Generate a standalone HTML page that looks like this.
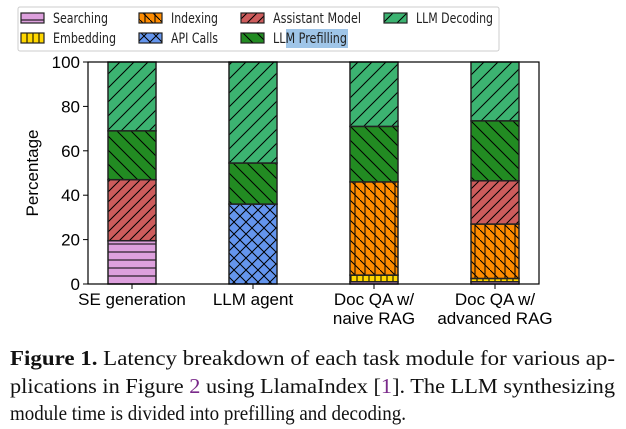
<!DOCTYPE html>
<html><head><meta charset="utf-8"><style>
body{margin:0;background:#fff;width:626px;height:429px;overflow:hidden}
svg{display:block}
</style></head><body>
<svg id="chart" width="626" height="429" viewBox="0 0 626 429" xmlns="http://www.w3.org/2000/svg">
<defs>
<pattern id="p-search" patternUnits="userSpaceOnUse" width="8" height="8"><line x1="0" y1="4" x2="8" y2="4" stroke="#000" stroke-width="1"/></pattern>
<pattern id="p-embed" patternUnits="userSpaceOnUse" width="6" height="6"><line x1="3" y1="0" x2="3" y2="6" stroke="#000" stroke-width="1"/></pattern>
<pattern id="p-index" patternUnits="userSpaceOnUse" width="10" height="10"><line x1="0" y1="0" x2="10" y2="10" stroke="#000" stroke-width="1"/><line x1="5" y1="0" x2="5" y2="10" stroke="#000" stroke-width="1"/></pattern>
<pattern id="p-api" patternUnits="userSpaceOnUse" width="12" height="12"><path d="M0 0L12 12M12 0L0 12" stroke="#000" stroke-width="1"/></pattern>
<pattern id="p-assist" patternUnits="userSpaceOnUse" width="10" height="10"><path d="M0 10L10 0M-2 2L2 -2M8 12L12 8" stroke="#000" stroke-width="1"/></pattern>
<pattern id="p-prefill" patternUnits="userSpaceOnUse" width="14" height="14"><path d="M0 0L14 14M-3 11L3 17M11 -3L17 3" stroke="#000" stroke-width="1"/></pattern>
<pattern id="p-decode" patternUnits="userSpaceOnUse" width="14" height="14"><path d="M0 14L14 0M-3 3L3 -3M11 17L17 11" stroke="#000" stroke-width="1"/></pattern>
</defs>
<g id="legend"></g>
<g id="plot"></g>
<g font-family="'Liberation Serif', serif" font-size="21" fill="#111">
<text x="10" y="365" textLength="605" lengthAdjust="spacingAndGlyphs"><tspan font-weight="bold">Figure 1.</tspan> Latency breakdown of each task module for various ap-</text>
<text x="10" y="393" textLength="605" lengthAdjust="spacingAndGlyphs">plications in Figure <tspan fill="#7a2a8a">2</tspan> using LlamaIndex [<tspan fill="#7a2a8a">1</tspan>]. The LLM synthesizing</text>
<text x="10" y="420" textLength="396" lengthAdjust="spacingAndGlyphs">module time is divided into prefilling and decoding.</text>
</g>
</svg>
<script>
const categories=["SE generation","LLM agent","Doc QA w/|naive RAG","Doc QA w/|advanced RAG"];
const seriesNames=["Searching","Embedding","Indexing","API Calls","Assistant Model","LLM Prefilling","LLM Decoding"];
const searching=[19.5,0,1,1];
const embedding=[0,0,3,1.5];
const indexing=[0,0,42,24.5];
const apiCalls=[0,36,0,0];
const assistant=[27.5,0,0,19.5];
const prefill=[22,18.5,25,27];
const decoding=[31,45.5,29,26.5];
const yTicks=[0,20,40,60,80,100];
const colors=["#dda0dd","#ffd700","#ff8c00","#6495ed","#cd5c5c","#228b22","#3cb371"];
const pats=["p-search","p-embed","p-index","p-api","p-assist","p-prefill","p-decode"];
const series=[searching,embedding,indexing,apiCalls,assistant,prefill,decoding];
const NS="http://www.w3.org/2000/svg";
const X0=88,X1=539,Y0=284,Y1=62;
const y=v=>Y0-(v/100)*(Y0-Y1);
const xc=i=>X0+44+i*121;
const BW=48;
function mk(t,a,p){const e=document.createElementNS(NS,t);for(const k in a)e.setAttribute(k,a[k]);(p||document.getElementById('plot')).appendChild(e);return e;}
categories.forEach((c,i)=>{
  let base=0;
  series.forEach((s,j)=>{
    const v=s[i]; if(!v)return;
    const g=mk('g',{});
    
    
    const a={x:xc(i)-BW/2,y:y(base+v),width:BW,height:y(base)-y(base+v)};
    mk('rect',Object.assign({fill:colors[j]},a),g);
    mk('rect',Object.assign({fill:'url(#'+pats[j]+')',stroke:'#222','stroke-width':1.5},a),g);
    base+=v;
  });
});
const ax=mk('rect',{x:X0,y:Y1,width:X1-X0,height:Y0-Y1,fill:'none',stroke:'#000','stroke-width':1.2});


yTicks.forEach(t=>{
  mk('line',{x1:X0-5,x2:X0,y1:y(t),y2:y(t),stroke:'#000'});
  const tx=mk('text',{x:X0-8,y:y(t)+6,'text-anchor':'end','font-family':'Liberation Sans, sans-serif','font-size':17});
  
  
  tx.textContent=t;
});
categories.forEach((c,i)=>{
  mk('line',{x1:xc(i),x2:xc(i),y1:Y0,y2:Y0+5,stroke:'#000'});
  c.split('|').forEach((l,k)=>{
    const tx=mk('text',{x:xc(i),y:305+k*19,'text-anchor':'middle','font-family':'Liberation Sans, sans-serif','font-size':17});
    
    
    tx.textContent=l;
  });
});
const yt=mk('text',{x:38,y:173,'text-anchor':'middle',transform:'rotate(-90 38 173)','font-family':'Liberation Sans, sans-serif','font-size':17});


yt.textContent='Percentage';
const lg=document.getElementById('legend');
mk('rect',{x:18,y:7,width:481,height:44,rx:2,fill:'#fff',stroke:'#ccc'},lg);
const order=[[0,21,18,55],[1,21,38,63],[2,139,18,47],[3,139,38,47],[4,241,18,88],[5,241,38,74],[6,384,18,77]];
mk('rect',{x:286,y:29,width:62,height:19,fill:'#9fc5e8'},lg);
order.forEach(([j,x,yy,w])=>{
  const g=mk('g',{},lg);
  
  
  mk('rect',{x:x,y:yy-5,width:23,height:10,fill:colors[j]},g);
  mk('rect',{x:x,y:yy-5,width:23,height:10,fill:'url(#'+pats[j]+')',stroke:'#222','stroke-width':1.2},g);
  const t=mk('text',{x:x+32,y:yy+5,'font-family':'DejaVu Sans, sans-serif','font-size':14.5,fill:'#222',textLength:w,lengthAdjust:'spacingAndGlyphs'},g);
  t.textContent=seriesNames[j];
});
</script>
</body></html>
